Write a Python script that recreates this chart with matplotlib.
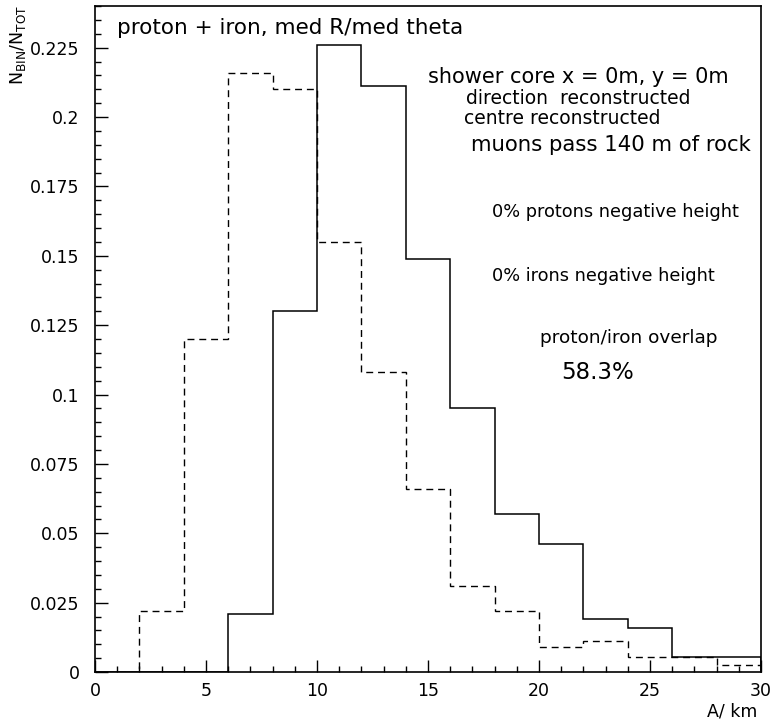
import matplotlib
matplotlib.use("Agg")
import matplotlib.pyplot as plt
import numpy as np
from matplotlib.ticker import MultipleLocator

edges = [0, 2, 4, 6, 8, 10, 12, 14, 16, 18, 20, 22, 24, 26, 28, 30]
solid_vals = [0, 0, 0, 0.021, 0.130, 0.226, 0.211, 0.149, 0.095, 0.057, 0.046, 0.019, 0.016, 0.0055, 0.0055]
dashed_vals = [0, 0.022, 0.120, 0.216, 0.210, 0.155, 0.108, 0.066, 0.031, 0.022, 0.009, 0.011, 0.0055, 0.0055, 0.0026]
xticks = [0, 5, 10, 15, 20, 25, 30]
yticks = [0, 0.025, 0.05, 0.075, 0.1, 0.125, 0.15, 0.175, 0.2, 0.225]
ytick_labels = ["0", "0.025", "0.05", "0.075", "0.1", "0.125", "0.15", "0.175", "0.2", "0.225"]

plt.rcParams['font.family'] = ['DejaVu Sans']
fig = plt.figure(figsize=(7.71, 7.25), dpi=100)
ax = fig.add_axes([95/771, 1-672/725, 666/771, 666/725])

ax.stairs(solid_vals, edges, color='black', linewidth=1.1)
ax.stairs(dashed_vals, edges, color='black', linewidth=1.0, linestyle=(0, (5, 3.5)))

ax.set_xlim(0, 30)
ax.set_ylim(0, 0.240)
ax.set_xticks(xticks)
ax.set_yticks(yticks)
ax.set_yticklabels(ytick_labels)
ax.xaxis.set_minor_locator(MultipleLocator(1))
ax.yaxis.set_minor_locator(MultipleLocator(0.005))
ax.tick_params(which='both', direction='in', top=False, right=False, labelsize=12.5, colors='black')
ax.tick_params(which='major', length=9, width=1.0)
ax.tick_params(axis='y', which='major', pad=11)
ax.tick_params(axis='x', which='major', pad=7)
ax.tick_params(which='minor', length=4.3, width=1.0)
for s in ax.spines.values():
    s.set_linewidth(1.2)

txt = dict(color='black', transform=ax.transData, va='center', ha='left')
ax.text(0.99, 0.232, "proton + iron, med R/med theta", fontsize=15.5, **txt)
ax.text(15.0, 0.2145, "shower core x = 0m, y = 0m", fontsize=15, **txt)
ax.text(16.7, 0.2065, "direction  reconstructed", fontsize=13.5, **txt)
ax.text(16.6, 0.1995, "centre reconstructed", fontsize=13.5, **txt)
ax.text(16.95, 0.190, "muons pass 140 m of rock", fontsize=15.3, **txt)
ax.text(17.9, 0.1657, "0% protons negative height", fontsize=12.8, **txt)
ax.text(17.9, 0.1426, "0% irons negative height", fontsize=12.8, **txt)
ax.text(20.05, 0.1202, "proton/iron overlap", fontsize=13.3, **txt)
ax.text(21.0, 0.1080, "58.3%", fontsize=16.5, **txt)

fig.text(18/771, 1-5/725, r"$\mathrm{N}_{\rm BIN}/\mathrm{N}_{\rm TOT}$", rotation=90, ha='center', va='top', fontsize=12.5)
fig.text(757/771, 1-712/725, "A/ km", ha='right', va='center', fontsize=12.5)

fig.savefig("out.png", dpi=100)
